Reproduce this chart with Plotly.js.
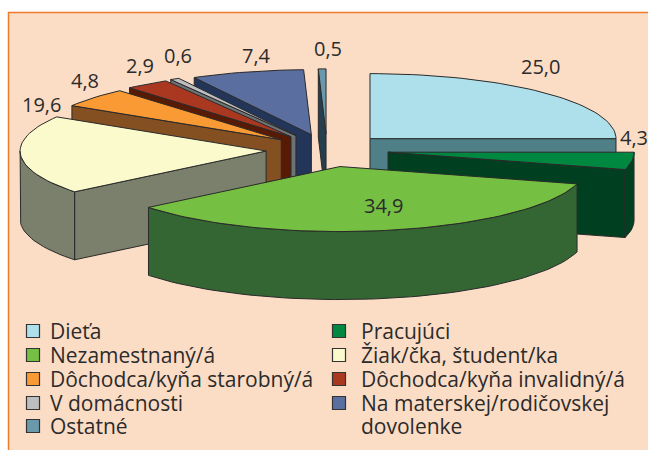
<!DOCTYPE html>
<html>
<head>
<meta charset="utf-8">
<script src="https://cdn.plot.ly/plotly-3.0.1.min.js"></script>
<style>html,body{margin:0;padding:0;background:#fff;overflow:hidden}#c{width:648px;height:450px}</style>
</head>
<body>
<div id="c"></div>
<script>
// Data, in clockwise pie order from 12 o'clock
const categories = ['Dieťa','Pracujúci','Nezamestnaný/á','Žiak/čka, študent/ka','Dôchodca/kyňa starobný/á','Dôchodca/kyňa invalidný/á','V domácnosti','Na materskej/rodičovskej<br>dovolenke','Ostatné'];
const values = [25.0,4.3,34.9,19.6,4.8,2.9,0.6,7.4,0.5];

// Styles
const topColors = ['#aee0ec','#008841','#75bf43','#fafacd','#f99a34','#aa3821','#bcbec0','#5b6ea0','#6b99ac'];
const sideColors = ['#4f7f87','#004020','#336633','#7a806c','#845022','#571a05','#6d7274','#233559','#263f4f'];
const explode = [60.8,61.6,64,61,60,61.5,63,60,61];
const drawOrder = [8,7,6,5,4,3,0,1,2];
const labelX = [540,634,383,41,85,140,178,256,328];
const labelY = [66,137,205,104,80,65,55,55,48];
const legendOrder = [0,1,2,3,4,5,6,7,8];
const legendX = [33,339,33,339,33,339,33,339,33];
const legendY = [331,331,355,355,379,379,403,403,426];
const legendTextX = [49,360,49,360,49,360,49,360,49];
const legendLineStep = 23;

// 3D pie geometry in pixel-like axis units
const cx = 327, cy = 150, rx = 246, ry = 65, depth = 68;
const edge = '#2a2a2a';
const total = values.reduce((a,b)=>a+b,0);
const rad = d => d*Math.PI/180;

const traces = [];
function poly(name, xs, ys, color){
  traces.push({type:'scatter',mode:'lines',name,x:xs.concat(xs[0]),y:ys.concat(ys[0]),
    fill:'toself',fillcolor:color,line:{color:edge,width:1},hoverinfo:'skip',showlegend:false});
}

let acc = 0;
const slices = values.map((v,i)=>{
  const a0 = acc/total*360; acc += v; const a1 = acc/total*360;
  const mid = rad((a0+a1)/2);
  return {i,a0,a1,
    ax: cx + explode[i]*Math.sin(mid),
    ay: cy - explode[i]*(ry/rx)*Math.cos(mid)};
});

function rimX(s,a){return s.ax+rx*Math.sin(rad(a));}
function rimY(s,a){return s.ay-ry*Math.cos(rad(a));}
function arcAngles(a0,a1){
  const n = Math.max(2,Math.ceil((a1-a0)/2)), out=[];
  for(let k=0;k<=n;k++) out.push(a0+(a1-a0)*k/n);
  return out;
}

drawOrder.forEach(idx=>{
  const s = slices[idx], name = categories[idx], side = sideColors[idx];
  // cut faces turned towards the viewer
  [[s.a0, Math.sin(rad(s.a0)) < -1e-6],[s.a1, Math.sin(rad(s.a1)) > 1e-6]].forEach(([a,vis])=>{
    if(!vis) return;
    const x1=rimX(s,a), y1=rimY(s,a);
    poly(name,[s.ax,x1,x1,s.ax],[s.ay,y1,y1+depth,s.ay+depth],side);
  });
  // outer curved wall, front half only
  const f0 = Math.max(s.a0,90), f1 = Math.min(s.a1,270);
  if(f1>f0){
    const as = arcAngles(f0,f1);
    poly(name,
      as.map(a=>rimX(s,a)).concat(as.slice().reverse().map(a=>rimX(s,a))),
      as.map(a=>rimY(s,a)).concat(as.slice().reverse().map(a=>rimY(s,a)+depth)),
      side);
  }
  // top face
  const as = arcAngles(s.a0,s.a1);
  poly(name,[s.ax].concat(as.map(a=>rimX(s,a))),[s.ay].concat(as.map(a=>rimY(s,a))),topColors[idx]);
});

// legend swatches
traces.push({type:'scatter',mode:'markers',x:legendX,y:legendY,hoverinfo:'skip',showlegend:false,
  marker:{symbol:'square',size:13,color:legendOrder.map(i=>topColors[i]),line:{color:'#333',width:1.2}}});

const txt = '#2b2b2b', family = '"Open Sans", sans-serif';
const annotations = [];
values.forEach((v,i)=>annotations.push({x:labelX[i],y:labelY[i],xref:'x',yref:'y',showarrow:false,
  text:v.toFixed(1).replace('.',','),font:{family,size:20,color:txt},xanchor:'center',yanchor:'middle'}));
legendOrder.forEach((c,k)=>categories[c].split('<br>').forEach((line,j)=>annotations.push({
  x:legendTextX[k],y:legendY[k]+j*legendLineStep,xref:'x',yref:'y',showarrow:false,
  text:line,align:'left',font:{family,size:21,color:txt},xanchor:'left',yanchor:'middle',borderpad:0})));

const layout = {
  width:648,height:450,autosize:false,margin:{l:0,r:0,t:0,b:0,pad:0},
  paper_bgcolor:'#ffffff',plot_bgcolor:'rgba(0,0,0,0)',showlegend:false,
  xaxis:{visible:false,range:[0,648],fixedrange:true},
  yaxis:{visible:false,range:[450,0],fixedrange:true},
  shapes:[{type:'rect',layer:'below',xref:'x',yref:'y',x0:8.5,x1:670,y0:12.5,y1:470,
    fillcolor:'#fbdcc5',line:{color:'#ee7a2c',width:1.5}}],
  annotations
};
Plotly.newPlot('c',traces,layout,{displayModeBar:false,staticPlot:true});
</script>
</body>
</html>
